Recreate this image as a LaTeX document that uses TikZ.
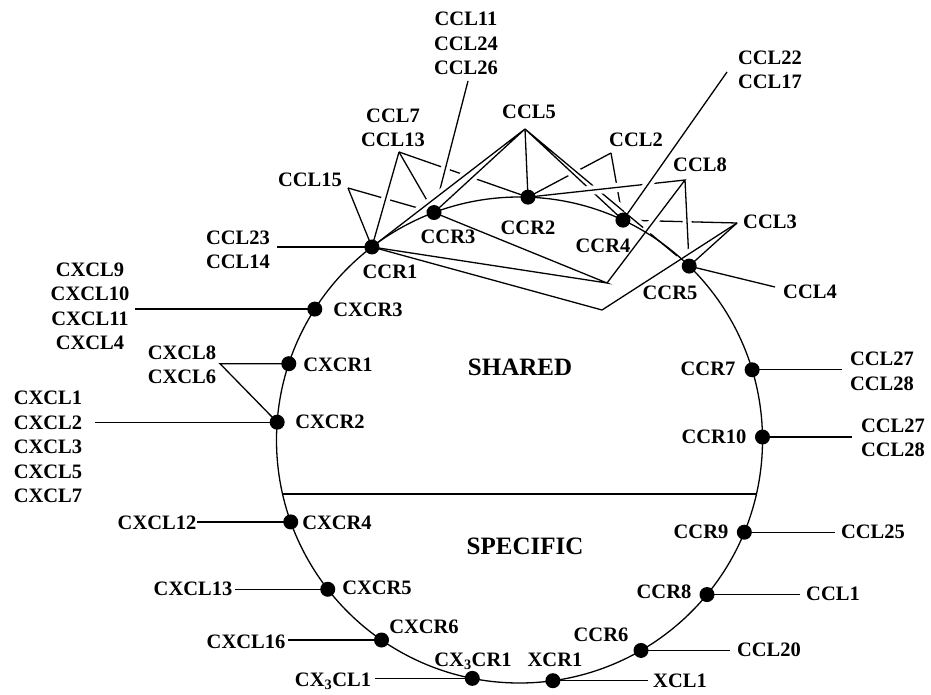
\documentclass[tikz,border=0pt]{standalone}
\usepackage{fontspec}
\setmainfont{Liberation Serif}
\usetikzlibrary{calc}
\begin{document}
\begin{tikzpicture}[x=1pt,y=-1pt,
  web/.style={line width=1.3pt},
  halo/.style={draw=white, line width=9pt},
  lbl/.style={font=\bfseries\fontsize{20.5}{24.5}\selectfont, inner sep=0pt, align=center},
  big/.style={font=\bfseries\fontsize{25}{30}\selectfont, inner sep=0pt},
  dot/.style={circle, fill=black, inner sep=0pt, minimum size=15pt}]
\useasboundingbox (0,0) rectangle (931,695);
\coordinate (O) at (519.5,440);
% receptors on the circle
\coordinate (CCR1) at ($(O)+(-127.4:243)$);
\coordinate (CCR3) at ($(O)+(-110.6:243)$);
\coordinate (CCR2) at ($(O)+(-88:243)$);
\coordinate (CCR4) at ($(O)+(-64.8:243)$);
\coordinate (CCR5) at ($(O)+(-45.7:243)$);
\coordinate (CXCR3) at ($(O)+(-147.4:243)$);
\coordinate (CXCR1) at ($(O)+(-161.7:243)$);
\coordinate (CXCR2) at ($(O)+(-175.8:243)$);
\coordinate (CXCR4) at ($(O)+(160.3:243)$);
\coordinate (CXCR5) at ($(O)+(142.1:243)$);
\coordinate (CXCR6) at ($(O)+(124.6:243)$);
\coordinate (CX3CR1) at ($(O)+(101.2:243)$);
\coordinate (XCR1) at ($(O)+(82.1:243)$);
\coordinate (CCR6) at ($(O)+(60:243)$);
\coordinate (CCR8) at ($(O)+(39.5:243)$);
\coordinate (CCR9) at ($(O)+(22.3:243)$);
\coordinate (CCR10) at ($(O)+(-0.7:243)$);
\coordinate (CCR7) at ($(O)+(-16.8:243)$);
\coordinate (dL) at ($(O)+(167.16:243)$);
\coordinate (dR) at ($(O)+(12.84:243)$);
% ligand anchor points
\coordinate (aCCL11) at (468,81);
\coordinate (aCCL7) at (399,152);
\coordinate (aCCL15) at (348,188);
\coordinate (aCCL23) at (277,248);
\coordinate (aCCL5) at (525,129);
\coordinate (aCCL2) at (611,153);
\coordinate (aCCL8) at (685,180);
\coordinate (aCCL22) at (727,72);
\coordinate (aCCL3) at (737,223);
\coordinate (aCCL4) at (775,287);
\coordinate (B1) at (607,283);
\coordinate (B2) at (602,310);
\coordinate (aCXCL8) at (220,364);
\coordinate (eCXCL10) at (135,310);
\coordinate (eCXCL2) at (95,422);
\coordinate (eCXCL12) at (197,523);
\coordinate (eCXCL13) at (235,589);
\coordinate (eCXCL16) at (288,641);
\coordinate (eCX3CL1) at (375,680);
\coordinate (eXCL1) at (648,681);
\coordinate (eCCL20) at (730,650);
\coordinate (eCCL1) at (800,594);
\coordinate (eCCL25) at (835,532);
\coordinate (eCCL27a) at (842,369);
\coordinate (eCCL27b) at (852,437);
% ---- web of lines, lowest layer first ----
\draw[web] (aCCL3) -- (CCR4);
\draw[web] (aCCL15) -- (CCR3);
\draw[web] (aCCL7) -- (CCR3);
\draw[web] (aCCL7) -- (CCR2);
\draw[web] (aCCL2) -- (CCR2);
\draw[web] (aCCL2) -- (CCR4);
\draw[halo, shorten >=20pt] (aCCL11) -- (CCR3);
\draw[web, shorten >=20pt] (aCCL11) -- (CCR3);
\draw[halo, shorten <=6pt] (aCCL5) -- (CCR4);
\draw[halo, shorten <=6pt] (aCCL5) -- (CCR5);
\draw[web] (aCCL5) -- (CCR4) (aCCL5) -- (CCR5);
\draw[halo, shorten <=7pt] (aCCL5) -- (CCR1);
\draw[halo, shorten <=7pt] (aCCL5) -- (CCR3);
\draw[web] (aCCL5) -- (CCR1) (aCCL5) -- (CCR3);
\draw[halo, shorten <=14pt, shorten >=6pt] (CCR2) -- (aCCL8);
\draw[halo, shorten <=6pt] (aCCL8) -- (B1);
\draw[halo, shorten <=6pt, shorten >=8pt] (aCCL8) -- (CCR5);
\draw[web] (CCR2) -- (aCCL8) -- (B1) (aCCL8) -- (CCR5);
\draw[halo, shorten >=8pt] (aCCL22) -- (CCR4);
\draw[halo, shorten <=10pt] (aCCL3) -- (B2);
\draw[web] (aCCL22) -- (CCR4) (aCCL3) -- (B2);
\draw[halo, shorten <=9pt, shorten >=10pt] (aCCL7) -- (CCR1);
\draw[web] (aCCL7) -- (CCR1);
\draw[web] (aCCL15) -- (CCR1);
\draw[web] (CCR1) -- (CCR1 -| aCCL23);
\draw[web] (aCCL5) -- (CCR2);
\draw[web] (CCR1) -- (B1) -- (CCR3);
\draw[web] (CCR1) -- (B2);
\draw[web] (aCCL3) -- (CCR5) -- (aCCL4);
% circle and divider
\draw[web] (O) circle[radius=243];
\draw[web] (dL) -- (dR);
% outer connectors
\draw[web] (CXCR3) -- (CXCR3 -| eCXCL10);
\draw[web] (CXCR1) -- (CXCR1 -| aCXCL8) -- (CXCR2);
\draw[web] (CXCR2) -- (CXCR2 -| eCXCL2);
\draw[web] (CXCR4) -- (CXCR4 -| eCXCL12);
\draw[web] (CXCR5) -- (CXCR5 -| eCXCL13);
\draw[web] (CXCR6) -- (CXCR6 -| eCXCL16);
\draw[web] (CX3CR1) -- (CX3CR1 -| eCX3CL1);
\draw[web] (XCR1) -- (XCR1 -| eXCL1);
\draw[web] (CCR6) -- (CCR6 -| eCCL20);
\draw[web] (CCR8) -- (CCR8 -| eCCL1);
\draw[web] (CCR9) -- (CCR9 -| eCCL25);
\draw[web] (CCR7) -- (CCR7 -| eCCL27a);
\draw[web] (CCR10) -- (CCR10 -| eCCL27b);
% dots
\foreach \n in {CCR1,CCR3,CCR2,CCR4,CCR5,CXCR3,CXCR1,CXCR2,CXCR4,CXCR5,CXCR6,CX3CR1,XCR1,CCR6,CCR8,CCR9,CCR10,CCR7}
  \node[dot] (d\n) at (\n) {};
% receptor labels
\node[lbl] (tCCR1) at (390,272) {CCR1};
\node[lbl] (tCCR3) at (448,237) {CCR3};
\node[lbl] (tCCR2) at (528,228) {CCR2};
\node[lbl] (tCCR4) at (603,246) {CCR4};
\node[lbl] (tCCR5) at (670,293) {CCR5};
\node[lbl] (tCXCR3) at (368,310) {CXCR3};
\node[lbl] (tCXCR1) at (338,365) {CXCR1};
\node[lbl] (tCXCR2) at (330,422) {CXCR2};
\node[lbl] (tCXCR4) at (337,523) {CXCR4};
\node[lbl] (tCXCR5) at (377,588) {CXCR5};
\node[lbl] (tCXCR6) at (424,627) {CXCR6};
\node[lbl] (tCX3CR1) at (473,661) {CX\textsubscript{3}CR1};
\node[lbl] (tXCR1) at (555,660) {XCR1};
\node[lbl] (tCCR6) at (601,635) {CCR6};
\node[lbl] (tCCR8) at (664,592) {CCR8};
\node[lbl] (tCCR9) at (701,532) {CCR9};
\node[lbl] (tCCR10) at (714,437) {CCR10};
\node[lbl] (tCCR7) at (708,369) {CCR7};
% ligand labels
\node[lbl] (tCCL11) at (466,43.5) {CCL11\\CCL24\\CCL26};
\node[lbl] (tCCL7) at (393,128) {CCL7\\CCL13};
\node[lbl] (tCCL15) at (310,180) {CCL15};
\node[lbl] (tCCL23) at (238,250) {CCL23\\CCL14};
\node[lbl] (tCCL5) at (529,112) {CCL5};
\node[lbl] (tCCL2) at (636,140) {CCL2};
\node[lbl] (tCCL8) at (700,165) {CCL8};
\node[lbl] (tCCL22) at (770,70) {CCL22\\CCL17};
\node[lbl] (tCCL3) at (770,222) {CCL3};
\node[lbl] (tCCL4) at (810,292) {CCL4};
\node[lbl] (tCXCL9) at (90,306.5) {CXCL9\\CXCL10\\CXCL11\\CXCL4};
\node[lbl] (tCXCL8) at (182,365) {CXCL8\\CXCL6};
\node[lbl] (tCXCL1) at (48,447) {CXCL1\\CXCL2\\CXCL3\\CXCL5\\CXCL7};
\node[lbl] (tCXCL12) at (157,523) {CXCL12};
\node[lbl] (tCXCL13) at (193,589) {CXCL13};
\node[lbl] (tCXCL16) at (246,642) {CXCL16};
\node[lbl] (tCX3CL1) at (333,681) {CX\textsubscript{3}CL1};
\node[lbl] (tXCL1) at (680,681) {XCL1};
\node[lbl] (tCCL20) at (769,650) {CCL20};
\node[lbl] (tCCL1) at (833,594) {CCL1};
\node[lbl] (tCCL25) at (873,532) {CCL25};
\node[lbl] (tCCL27a) at (882,371.5) {CCL27\\CCL28};
\node[lbl] (tCCL27b) at (893,438) {CCL27\\CCL28};
\node[big] (shared) at (520,367) {SHARED};
\node[big] (specific) at (525,546) {SPECIFIC};
\end{tikzpicture}
\end{document}
